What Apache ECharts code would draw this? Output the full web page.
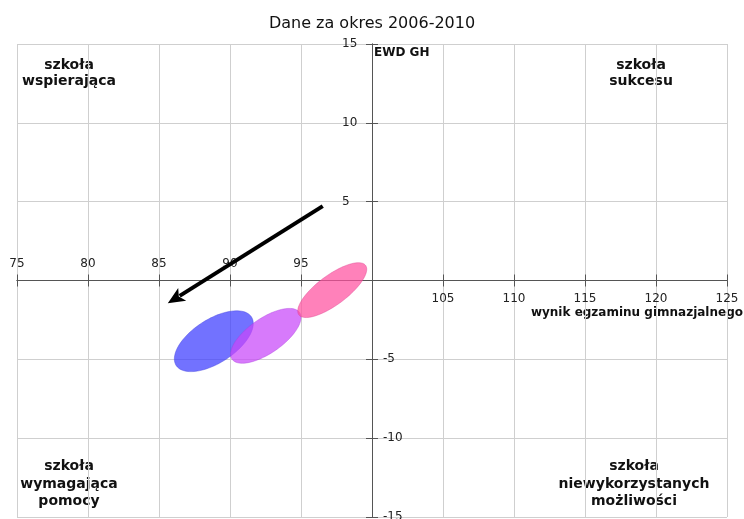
<!DOCTYPE html>
<html><head><meta charset="utf-8">
<script src="https://cdn.jsdelivr.net/npm/echarts@6/dist/echarts.min.js"></script>
<style>html,body{margin:0;padding:0;background:#fff}#c{width:744px;height:519px}</style>
</head><body><div id="c"></div>
<script>
// ---- data ----
const titleText = 'Dane za okres 2006-2010';
const xAxisName = 'wynik egzaminu gimnazjalnego';
const yAxisName = 'EWD GH';
const xMin = 75, xMax = 125, xStep = 5;
const yMin = -15, yMax = 15, yStep = 5;
const ellipseNames = ['A', 'B', 'C'];
const ellipseCenterX = [88.86, 92.52, 97.2];
const ellipseCenterY = [-3.85, -3.51, -0.61];
const ellipseHalfWidth = [2.78, 2.48, 2.43];
const ellipseHalfHeight = [1.93, 1.74, 1.74];
const ellipseTilt = [0.58, 0.67, 0.76];
const arrowFrom = [96.53, 4.72];
const arrowTo = [85.62, -1.45];
const quadrantLabels = [
  'szkoła\nwspierająca',
  'szkoła\nsukcesu',
  'szkoła\nwymagająca\npomocy',
  'szkoła\nniewykorzystanych\nmożliwości'
];
// ---- layout / styles ----
const GRID = {left: 17, right: 17, top: 44, bottom: 2};
const W = 744, H = 519;
const gridW = W - GRID.left - GRID.right, gridH = H - GRID.top - GRID.bottom;
const ellipseColors = ['rgba(60,60,255,0.72)', 'rgba(200,70,250,0.72)', 'rgba(255,80,160,0.72)'];
const ellipseStrokes = ['rgba(60,60,220,0.5)', 'rgba(170,60,220,0.5)', 'rgba(220,60,140,0.5)'];
const FONT = '"DejaVu Sans", sans-serif';

const chart = echarts.init(document.getElementById('c'), null, {renderer: 'canvas'});

function renderEllipse(params, api) {
  const cx = api.value(0), cy = api.value(1), rx = api.value(2), ry = api.value(3), rho = api.value(4);
  const s = Math.sqrt(1 - rho * rho);
  const pts = [];
  const N = 96;
  for (let k = 0; k < N; k++) {
    const t = k / N * 2 * Math.PI;
    const c = Math.cos(t), sn = Math.sin(t);
    pts.push(api.coord([cx + rx * c, cy + ry * (rho * c + s * sn)]));
  }
  return {type: 'polygon', shape: {points: pts},
    style: {fill: ellipseColors[params.seriesIndex], stroke: ellipseStrokes[params.seriesIndex], lineWidth: 0.8}};
}

function renderArrow(params, api) {
  const p1 = api.coord([api.value(0), api.value(1)]);
  const p2 = api.coord([api.value(2), api.value(3)]);
  const dx = p2[0] - p1[0], dy = p2[1] - p1[1];
  const L = Math.hypot(dx, dy), ux = dx / L, uy = dy / L;
  const head = 17, hw = 7.5;
  const base = [p2[0] - ux * head, p2[1] - uy * head];
  return {type: 'group', children: [
    {type: 'line', shape: {x1: p1[0], y1: p1[1], x2: base[0] + ux * 3, y2: base[1] + uy * 3},
      style: {stroke: '#000', lineWidth: 4}},
    {type: 'polygon', shape: {points: [p2, [base[0] - uy * hw, base[1] + ux * hw], [base[0] + ux * 4, base[1] + uy * 4], [base[0] + uy * hw, base[1] - ux * hw]]},
      style: {fill: '#000'}}
  ]};
}

const ellipseSeries = ellipseNames.map((n, i) => ({
  name: n, type: 'custom', xAxisIndex: 0, yAxisIndex: 0, silent: true,
  renderItem: renderEllipse,
  encode: {x: 0, y: 1},
  data: [[ellipseCenterX[i], ellipseCenterY[i], ellipseHalfWidth[i], ellipseHalfHeight[i], ellipseTilt[i]]],
  z: 3
}));

const axisCommon = {
  type: 'value', min: xMin, max: xMax, interval: xStep,
  axisLine: {onZero: false, lineStyle: {color: '#555', width: 1}},
  axisTick: {show: true, length: 6, lineStyle: {color: '#555'}},
};

const labelStyle = {color: '#222', fontSize: 12, fontFamily: FONT};

const option = {
  animation: false,
  backgroundColor: '#fff',
  title: {text: titleText, left: 'center', top: 11,
    textStyle: {fontFamily: FONT, fontSize: 16, fontWeight: 'normal', color: '#111'}},
  grid: Object.assign({containLabel: false, outerBoundsMode: 'none'}, GRID),
  xAxis: [
    Object.assign({}, axisCommon, {
      position: 'top', offset: -gridH / 2,
      axisLabel: Object.assign({margin: 11, formatter: v => v < 100 ? String(v) : ''}, labelStyle),
      splitLine: {show: true, lineStyle: {color: '#cfcfcf', width: 1}}
    }),
    Object.assign({}, axisCommon, {
      position: 'bottom', offset: -gridH / 2,
      axisLabel: Object.assign({margin: 12, formatter: v => v > 100 ? String(v) : ''}, labelStyle),
      splitLine: {show: false}
    })
  ],
  yAxis: [
    Object.assign({}, axisCommon, {
      min: yMin, max: yMax, interval: yStep,
      position: 'left', offset: -gridW / 2,
      axisLabel: Object.assign({margin: 30, align: 'left', formatter: v => v > 0 ? String(v) : ''}, labelStyle),
      splitLine: {show: true, lineStyle: {color: '#cfcfcf', width: 1}}
    }),
    Object.assign({}, axisCommon, {
      min: yMin, max: yMax, interval: yStep,
      position: 'right', offset: -gridW / 2,
      axisLabel: Object.assign({margin: 11, formatter: v => v < 0 ? String(v) : ''}, labelStyle),
      splitLine: {show: false}
    })
  ],
  graphic: [
    {type: 'text', left: 374, top: 47, style: {text: yAxisName, font: 'bold 12px ' + FONT, fill: '#111'}},
    {type: 'text', right: 1, top: 307, style: {text: xAxisName, font: 'bold 12px ' + FONT, fill: '#111'}},
    {type: 'text', x: 69, y: 57, style: {text: quadrantLabels[0], font: 'bold 14px ' + FONT, fill: '#111', textAlign: 'center', textVerticalAlign: 'top', lineHeight: 16.5}},
    {type: 'text', x: 641, y: 57, style: {text: quadrantLabels[1], font: 'bold 14px ' + FONT, fill: '#111', textAlign: 'center', textVerticalAlign: 'top', lineHeight: 16.5}},
    {type: 'text', x: 69, y: 458, style: {text: quadrantLabels[2], font: 'bold 14px ' + FONT, fill: '#111', textAlign: 'center', textVerticalAlign: 'top', lineHeight: 17.5}},
    {type: 'text', x: 634, y: 458, style: {text: quadrantLabels[3], font: 'bold 14px ' + FONT, fill: '#111', textAlign: 'center', textVerticalAlign: 'top', lineHeight: 17.5}}
  ],
  series: ellipseSeries.concat([{
    name: 'arrow', type: 'custom', xAxisIndex: 0, yAxisIndex: 0, silent: true,
    renderItem: renderArrow,
    encode: {x: [0, 2], y: [1, 3]},
    data: [[arrowFrom[0], arrowFrom[1], arrowTo[0], arrowTo[1]]],
    z: 4
  }])
};
chart.setOption(option);
</script>
</body></html>
